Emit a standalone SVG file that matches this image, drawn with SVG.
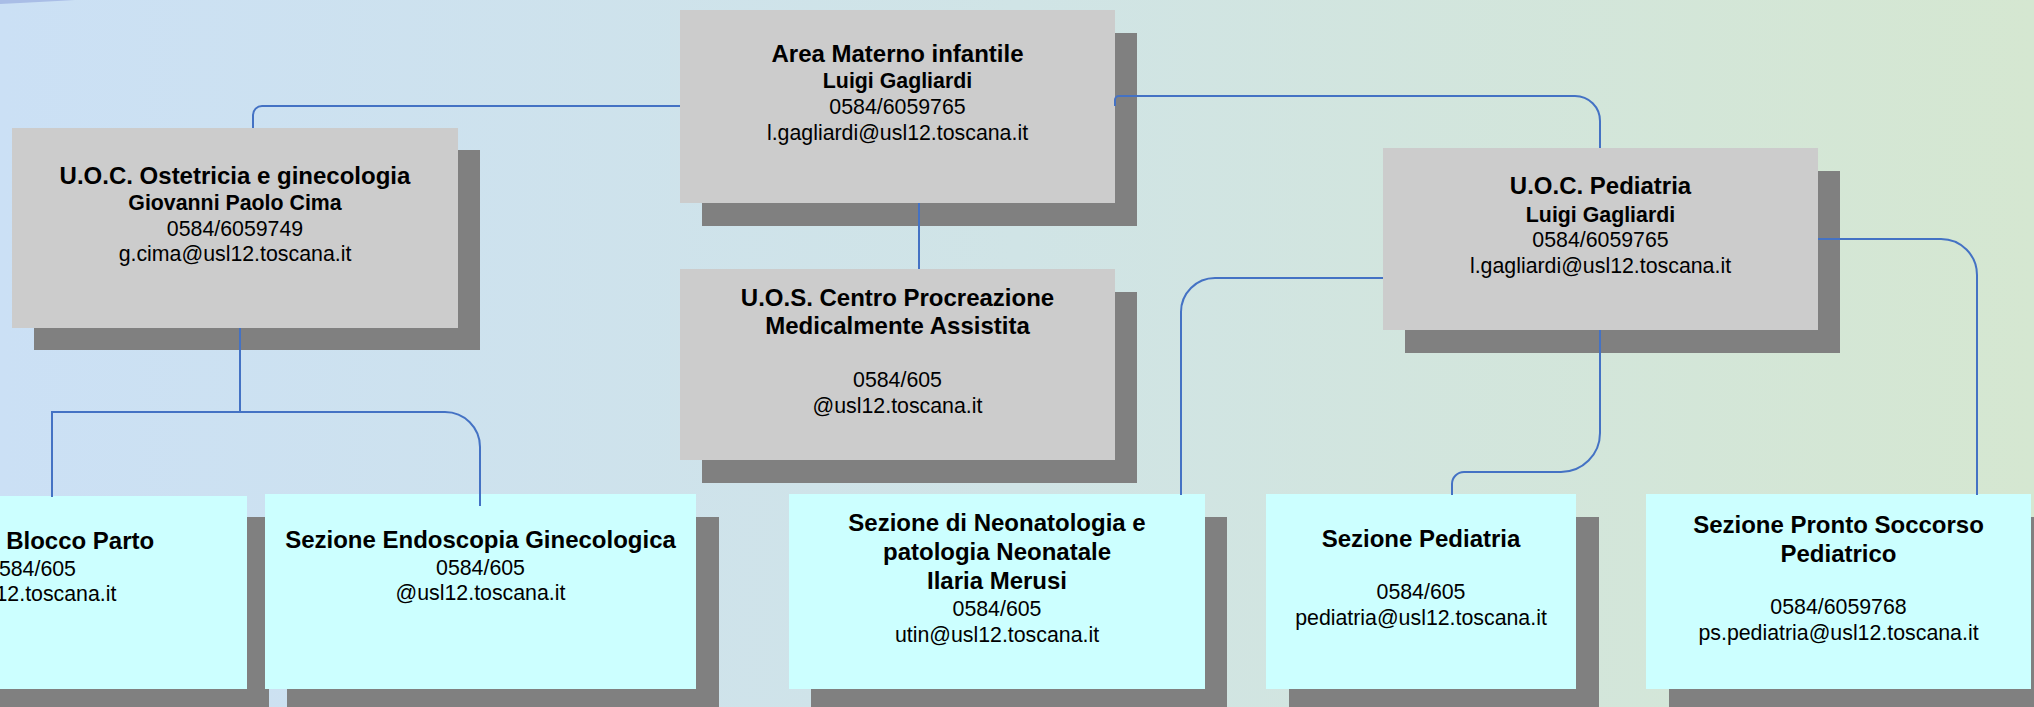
<svg xmlns="http://www.w3.org/2000/svg" width="2034" height="707" viewBox="0 0 2034 707">
<defs>
<linearGradient id="bg" x1="0" y1="0" x2="1" y2="0">
<stop offset="0" stop-color="#cbe0f5"/>
<stop offset="0.5" stop-color="#d0e4e6"/>
<stop offset="1" stop-color="#d5e7d1"/>
</linearGradient>
<style>
.sh{fill:#808080}
.gb{fill:#cccccc}
.cb{fill:#ccffff}
text{font-family:"Liberation Sans",Arial,sans-serif;fill:#000;text-anchor:middle}
.t{font-size:24px;font-weight:bold}
.n{font-size:21.33px;font-weight:bold}
.r{font-size:21.33px}
.c{fill:none;stroke:#4472c4;stroke-width:2}
</style>
</defs>
<rect x="0" y="0" width="2034" height="707" fill="url(#bg)"/>
<path d="M0,0 H75 Q40,2 0,4 Z" fill="#a9bde6"/>
<g id="area">
<rect class="sh" x="702" y="33" width="435" height="193"/>
<rect class="gb" x="680" y="10" width="435" height="193"/>
<text class="t" x="897.5" y="62">Area Materno infantile</text>
<text class="n" x="897.5" y="88">Luigi Gagliardi</text>
<text class="r" x="897.5" y="114">0584/6059765</text>
<text class="r" x="897.5" y="140">l.gagliardi@usl12.toscana.it</text>
</g>
<g id="ostetricia">
<rect class="sh" x="34" y="150" width="446" height="200"/>
<rect class="gb" x="12" y="128" width="446" height="200"/>
<text class="t" x="235" y="184">U.O.C. Ostetricia e ginecologia</text>
<text class="n" x="235" y="210">Giovanni Paolo Cima</text>
<text class="r" x="235" y="236">0584/6059749</text>
<text class="r" x="235" y="261">g.cima@usl12.toscana.it</text>
</g>
<g id="uos">
<rect class="sh" x="702" y="292" width="435" height="191"/>
<rect class="gb" x="680" y="269" width="435" height="191"/>
<text class="t" x="897.5" y="306">U.O.S. Centro Procreazione</text>
<text class="t" x="897.5" y="334">Medicalmente Assistita</text>
<text class="r" x="897.5" y="387">0584/605</text>
<text class="r" x="897.5" y="413">@usl12.toscana.it</text>
</g>
<g id="pediatria">
<rect class="sh" x="1405" y="171" width="435" height="182"/>
<rect class="gb" x="1383" y="148" width="435" height="182"/>
<text class="t" x="1600.5" y="194">U.O.C. Pediatria</text>
<text class="n" x="1600.5" y="222">Luigi Gagliardi</text>
<text class="r" x="1600.5" y="247">0584/6059765</text>
<text class="r" x="1600.5" y="273">l.gagliardi@usl12.toscana.it</text>
</g>
<g id="blocco-parto">
<rect class="sh" x="-162" y="517" width="431" height="195"/>
<rect class="cb" x="-184" y="496" width="431" height="193"/>
<text class="t" x="31.5" y="549">Sezione Blocco Parto</text>
<text class="r" x="31.5" y="576">0584/605</text>
<text class="r" x="31.5" y="601">@usl12.toscana.it</text>
</g>
<g id="endoscopia">
<rect class="sh" x="287" y="517" width="432" height="195"/>
<rect class="cb" x="265" y="494" width="431" height="195"/>
<text class="t" x="480.5" y="548">Sezione Endoscopia Ginecologica</text>
<text class="r" x="480.5" y="575">0584/605</text>
<text class="r" x="480.5" y="600">@usl12.toscana.it</text>
</g>
<g id="neonatologia">
<rect class="sh" x="811" y="517" width="416" height="195"/>
<rect class="cb" x="789" y="494" width="416" height="195"/>
<text class="t" x="997" y="531">Sezione di Neonatologia e</text>
<text class="t" x="997" y="560">patologia Neonatale</text>
<text class="t" x="997" y="589">Ilaria Merusi</text>
<text class="r" x="997" y="616">0584/605</text>
<text class="r" x="997" y="642">utin@usl12.toscana.it</text>
</g>
<g id="sezione-pediatria">
<rect class="sh" x="1289" y="517" width="310" height="195"/>
<rect class="cb" x="1266" y="494" width="310" height="195"/>
<text class="t" x="1421" y="547">Sezione Pediatria</text>
<text class="r" x="1421" y="599">0584/605</text>
<text class="r" x="1421" y="625">pediatria@usl12.toscana.it</text>
</g>
<g id="pronto-soccorso">
<rect class="sh" x="1669" y="517" width="385" height="195"/>
<rect class="cb" x="1646" y="494" width="385" height="195"/>
<text class="t" x="1838.5" y="533">Sezione Pronto Soccorso</text>
<text class="t" x="1838.5" y="562">Pediatrico</text>
<text class="r" x="1838.5" y="614">0584/6059768</text>
<text class="r" x="1838.5" y="640">ps.pediatria@usl12.toscana.it</text>
</g>
<g id="connectors">
<path class="c" d="M680,106 H262 A9,9 0 0 0 253,115 V128"/>
<path class="c" d="M1115,106 V100 A4,4 0 0 1 1119,96 H1575 A25,25 0 0 1 1600,121 V148"/>
<path class="c" d="M919,203 V269"/>
<path class="c" d="M240,328 V412"/>
<path class="c" d="M52,497 V412 H445 A35,35 0 0 1 480,447 V506"/>
<path class="c" d="M1383,278 H1215 A34,34 0 0 0 1181,312 V495"/>
<path class="c" d="M1818,239 H1941 A36,36 0 0 1 1977,275 V495"/>
<path class="c" d="M1600,330 V433 A39,39 0 0 1 1561,472 H1464 A12,12 0 0 0 1452,484 V495"/>
</g>
</svg>
